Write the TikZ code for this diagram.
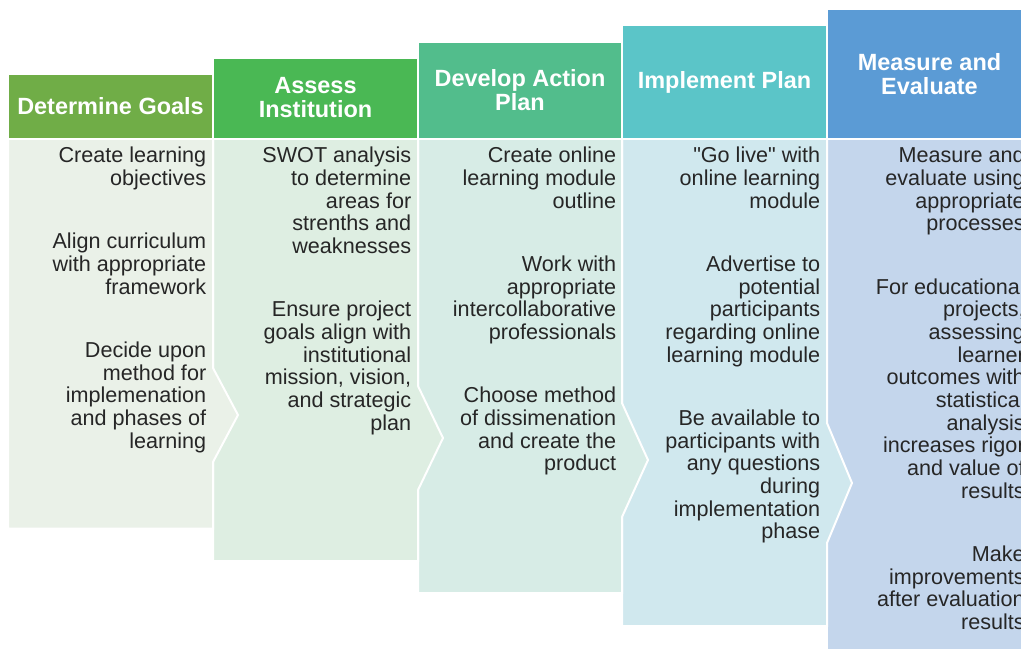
\documentclass[tikz,border=0pt]{standalone}
\usepackage{fontspec}
\setmainfont{Liberation Sans}[Ligatures=TeXOff]
\definecolor{hA}{RGB}{112,173,71}
\definecolor{hB}{RGB}{74,184,84}
\definecolor{hC}{RGB}{82,189,140}
\definecolor{hD}{RGB}{91,197,200}
\definecolor{hE}{RGB}{91,155,213}
\definecolor{bA}{RGB}{234,241,232}
\definecolor{bB}{RGB}{222,238,226}
\definecolor{bC}{RGB}{215,236,230}
\definecolor{bD}{RGB}{208,232,238}
\definecolor{bE}{RGB}{196,214,236}
\definecolor{txtgray}{RGB}{38,38,38}

\begin{document}
\begin{tikzpicture}[x=0.75pt,y=-0.75pt,
    head/.style={draw=white,line width=1.5pt},
    body/.style={draw=white,line width=1.5pt},
    htext/.style={text=white,font=\fontsize{17.6}{18}\selectfont\bfseries,align=center,inner sep=0},
    btext/.style={text=txtgray,font=\fontsize{16.2}{17}\selectfont,align=right,inner sep=0,anchor=north east}]
    \useasboundingbox (0,0) rectangle (1021,649);
    \clip (0,0) rectangle (1021,649);
    %Measure and Evaluate
    \draw[body,fill=bE] (827,139) -- (1032,139) -- (1032,660) -- (827,660) -- cycle;
    %Implement Plan
    \draw[body,fill=bD] (622,139) -- (827,139) -- (827,423) -- (852,483) -- (827,543) -- (827,626) -- (622,626) -- cycle;
    %Develop Action Plan
    \draw[body,fill=bC] (418,139) -- (622,139) -- (622,403) -- (648,460) -- (622,517) -- (622,593) -- (418,593) -- cycle;
    %Assess Institution
    \draw[body,fill=bB] (213,139) -- (418,139) -- (418,386) -- (443,438) -- (418,490) -- (418,561) -- (213,561) -- cycle;
    %Determine Goals
    \draw[body,fill=bA] (8,139) -- (213,139) -- (213,368) -- (238,415) -- (213,462) -- (213,528.5) -- (8,528.5) -- cycle;
    %headers
    \draw[head,fill=hA] (8,74) rectangle (213,139);
    \draw[head,fill=hB] (213,58) rectangle (418,139);
    \draw[head,fill=hC] (418,42) rectangle (622,139);
    \draw[head,fill=hD] (622,25) rectangle (827,139);
    \draw[head,fill=hE] (827,9) rectangle (1032,139);
    \node[htext] (h1) at (110.5,106) {Determine Goals};
    \node[htext] (h2) at (315.5,98) {Assess\\Institution};
    \node[htext] (h3) at (520,90) {Develop Action\\Plan};
    \node[htext] (h4) at (724.5,82.5) {Implement Plan};
    \node[htext] (h5) at (929.5,74) {Measure and\\Evaluate};
    %steps
    \node[btext] (t1) at (206.5,147) {Create learning\\objectives\\[30.5pt]Align curriculum\\with appropriate\\framework\\[30.5pt]Decide upon\\method for\\implemenation\\and phases of\\learning};
    \node[btext] (t2) at (411.5,147) {SWOT analysis\\to determine\\areas for\\strenths and\\weaknesses\\[30.5pt]Ensure project\\goals align with\\institutional\\mission, vision,\\and strategic\\plan};
    \node[btext] (t3) at (616.5,147) {Create online\\learning module\\outline\\[30.5pt]Work with\\appropriate\\intercollaborative\\professionals\\[30.5pt]Choose method\\of dissimenation\\and create the\\product};
    \node[btext] (t4) at (820.5,147) {"Go live" with\\online learning\\module\\[30.5pt]Advertise to\\potential\\participants\\regarding online\\learning module\\[30.5pt]Be available to\\participants with\\any questions\\during\\implementation\\phase};
    \node[btext] (t5) at (1025,147) {Measure and\\evaluate using\\appropriate\\processes\\[30.5pt]For educational\\projects,\\assessing\\learner\\outcomes with\\statistical\\analysis\\increases rigor\\and value of\\results\\[30.5pt]Make\\improvements\\after evaluation\\results};
\end{tikzpicture}
\end{document}
